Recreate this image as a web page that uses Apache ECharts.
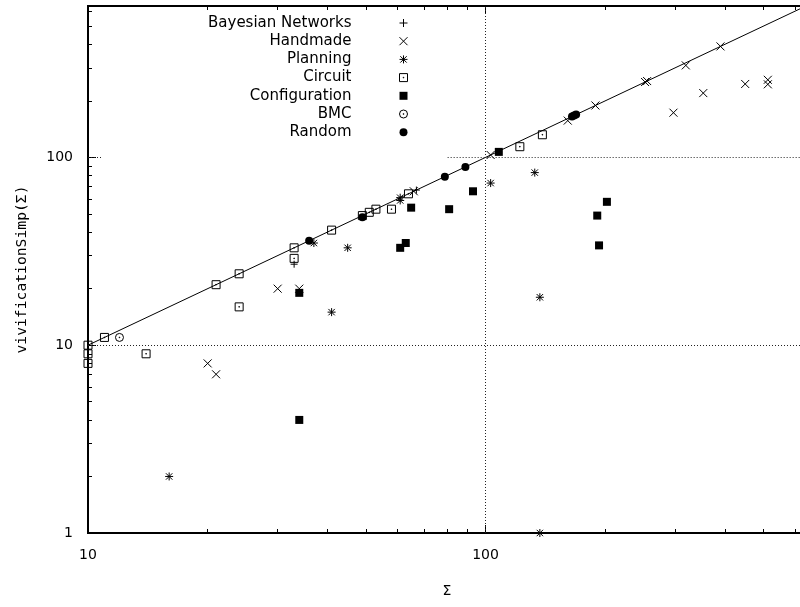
<!DOCTYPE html>
<html><head><meta charset="utf-8">
<script src="https://cdn.jsdelivr.net/npm/echarts@6/dist/echarts.min.js"></script>
<style>html,body{margin:0;padding:0;background:#fff}#c{width:800px;height:607px}</style>
</head><body><div id="c"></div>
<script>
// ---- data (x = |Σ|, y = |vivificationSimp(Σ)|) ----
const seriesNames = ['Bayesian Networks','Handmade','Planning','Circuit','Configuration','BMC','Random'];
const bayesian = [[33,27],[67,67]];
const handmade = [[20,8],[21,7],[30,20],[34,20],[66,66],[103,103],[161,157],[189,189],[252,252],[255,255],[297,173],[319,309],[353,220],[390,390],[450,246],[513,259],[513,245]];
const planning = [[16,2],[37,35],[41,15],[45,33],[61,61],[61,59],[103,73],[133,83],[137,18],[137,1]];
const circuit = [[10,10],[10,9],[10,8],[11,11],[14,9],[21,21],[24,24],[24,16],[33,33],[33,29],[41,41],[49,49],[51,51],[53,53],[58,53],[64,64],[122,114],[139,132]];
const configuration = [[34,19],[34,4],[61,33],[63,35],[65,54],[81,53],[93,66],[108,107],[191,49],[193,34],[202,58]];
const bmc = [[12,11]];
const random = [[36,36],[49,48],[79,79],[89,89],[165,165],[167,167],[169,169]];
const identityLine = [[10,10],[640,640]];
const xRange = [10, 640];
const yRange = [1, 640];
const xMajorTicks = [10, 100];
const xMinorTicks = [20,30,40,50,60,70,80,90,200,300,400,500,600];
const yMajorTicks = [1, 10, 100];
const yMinorTicks = [2,3,4,5,6,7,8,9,20,30,40,50,60,70,80,90,200,300,400,500,600];

// ---- styling ----
const SANS = 'DejaVu Sans';
const MONO = 'DejaVu Sans Mono';
const SYM = {
  plus: 'path://M0,5L10,5M5,0L5,10',
  cross: 'path://M0,0L10,10M0,10L10,0',
  star: 'path://M0,5L10,5M5,0L5,10M1,1L9,9M1,9L9,1',
  boxdot: 'path://M0,0L10,0L10,10L0,10Z M4.6,4.6L5.4,4.6L5.4,5.4L4.6,5.4Z',
  box: 'path://M0,0L10,0L10,10L0,10Z',
  circdot: 'path://M0,5A5,5,0,1,1,10,5A5,5,0,1,1,0,5Z M4.6,4.6L5.4,4.6L5.4,5.4L4.6,5.4Z'
};
const strokeStyle = {color: 'rgba(0,0,0,0)', borderColor: '#000', borderWidth: 1, opacity: 1};
const fillStyle = {color: '#000', borderWidth: 0, opacity: 1};
const legendStroke = {color: 'rgba(0,0,0,0)', borderColor: '#000', borderWidth: 1, opacity: 1};
const legendFill = {color: '#000', borderWidth: 0, opacity: 1};

function xAxisDef(position, ticks, len, main) {
  return {
    type: 'log', logBase: 10, min: xRange[0], max: xRange[1], position: position, gridIndex: 0,
    axisLine: {show: true, onZero: false, lineStyle: {color: '#000', width: 2}},
    axisTick: {show: true, inside: true, length: len, customValues: ticks, lineStyle: {color: '#000', width: 1}},
    axisLabel: {show: main, customValues: xMajorTicks, margin: 15, color: '#000', fontSize: 14, fontFamily: SANS},
    splitLine: {show: false}, minorTick: {show: false}, minorSplitLine: {show: false},
    name: main ? 'Σ' : '', nameLocation: 'middle', nameGap: 51,
    nameTextStyle: {color: '#000', fontSize: 14, fontFamily: SANS},
    silent: true
  };
}
function yAxisDef(position, ticks, len, main) {
  return {
    type: 'log', logBase: 10, min: yRange[0], max: yRange[1], position: position, gridIndex: 0,
    axisLine: {show: true, onZero: false, lineStyle: {color: '#000', width: 2}},
    axisTick: {show: true, inside: true, length: len, customValues: ticks, lineStyle: {color: '#000', width: 1}},
    axisLabel: {show: main, customValues: yMajorTicks, margin: 15, color: '#000', fontSize: 14, fontFamily: SANS},
    splitLine: {show: false}, minorTick: {show: false}, minorSplitLine: {show: false},
    name: main ? 'vivificationSimp(Σ)' : '', nameLocation: 'middle', nameRotate: 90, nameGap: 58,
    nameTextStyle: {color: '#000', fontSize: 14.7, fontFamily: MONO},
    silent: true
  };
}

function scatter(name, data, symbol, size, style) {
  return {type: 'scatter', name: name, data: data, symbol: symbol, symbolSize: size,
    itemStyle: style, xAxisIndex: 0, yAxisIndex: 0, z: 3, silent: true,
    emphasis: {disabled: true}};
}

const legendStyles = [legendStroke, legendStroke, legendStroke, legendStroke, legendFill, legendStroke, legendFill];

const chart = echarts.init(document.getElementById('c'), null, {renderer: 'canvas'});
chart.setOption({
  animation: false,
  backgroundColor: '#fff',
  grid: {left: 88, right: -6, top: 6, bottom: 74, containLabel: false, outerBoundsMode: 'none'},
  xAxis: [
    xAxisDef('bottom', xMajorTicks, 8, true),
    xAxisDef('bottom', xMinorTicks, 4, false),
    xAxisDef('top', xMajorTicks, 8, false),
    xAxisDef('top', xMinorTicks, 4, false)
  ],
  yAxis: [
    yAxisDef('left', yMajorTicks, 8, true),
    yAxisDef('left', yMinorTicks, 4, false)
  ],
  legend: {
    orient: 'vertical', align: 'right', right: 392, top: 15.5, padding: 0,
    itemGap: 3.2, itemWidth: 94, itemHeight: 8, selectedMode: false,
    textStyle: {color: '#000', fontSize: 15, fontFamily: SANS},
    data: seriesNames.map((n, i) => ({name: n, itemStyle: legendStyles[i]}))
  },
  series: [
    {
      type: 'line', name: 'identity', data: identityLine, symbol: 'none', silent: true,
      lineStyle: {color: '#000', width: 1}, z: 2, xAxisIndex: 0, yAxisIndex: 0,
      emphasis: {disabled: true},
      markLine: {
        silent: true, symbol: 'none', label: {show: false}, animation: false,
        lineStyle: {type: [1, 2], color: '#222', width: 1},
        emphasis: {disabled: true},
        data: [
          [{coord: [100, yRange[0]]}, {coord: [100, yRange[1]]}],
          [{coord: [xRange[0], 10]}, {coord: [xRange[1], 10]}],
          [{coord: [xRange[0], 100]}, {coord: [10.8, 100]}],
          [{coord: [80.3, 100]}, {coord: [xRange[1], 100]}]
        ]
      }
    },
    scatter(seriesNames[0], bayesian, SYM.plus, 7, strokeStyle),
    scatter(seriesNames[1], handmade, SYM.cross, 8, strokeStyle),
    scatter(seriesNames[2], planning, SYM.star, 8, strokeStyle),
    scatter(seriesNames[3], circuit, SYM.boxdot, 8, strokeStyle),
    scatter(seriesNames[4], configuration, SYM.box, 8, fillStyle),
    scatter(seriesNames[5], bmc, SYM.circdot, 8, strokeStyle),
    scatter(seriesNames[6], random, 'circle', 8, fillStyle)
  ]
});
</script></body></html>
